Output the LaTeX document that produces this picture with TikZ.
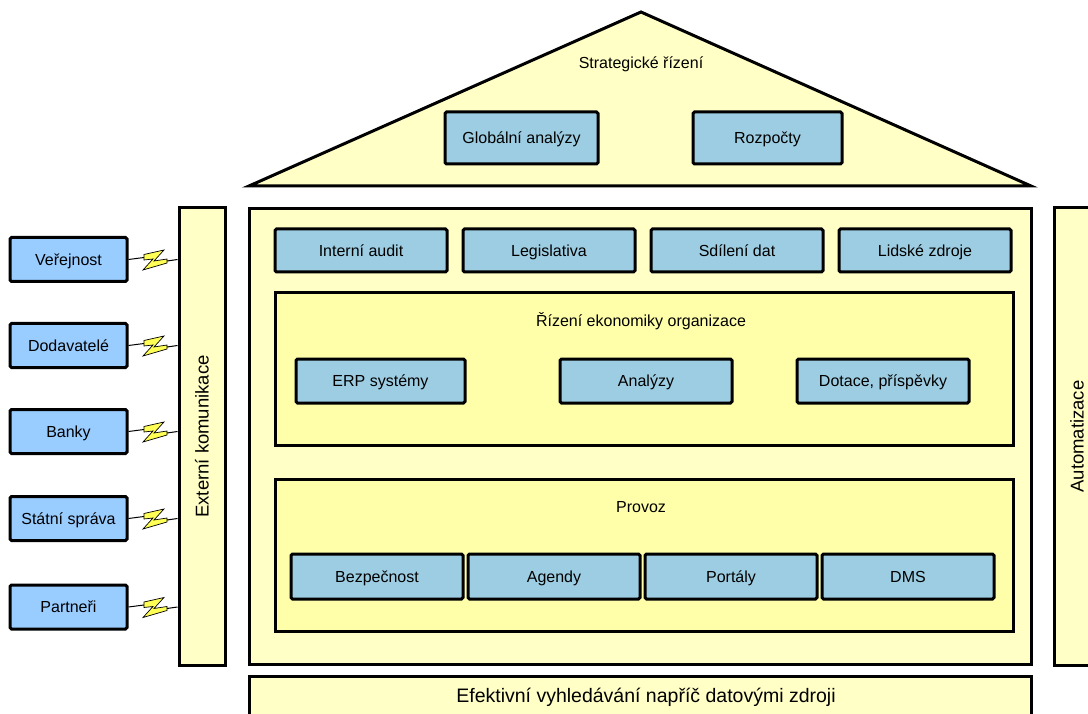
\documentclass[tikz,border=0pt]{standalone}
\usepackage{fontspec}
\setmainfont{Liberation Sans}
\usetikzlibrary{calc}
\definecolor{paleyel}{HTML}{FFFFC6}
\definecolor{inneryel}{HTML}{FFFFAA}
\definecolor{modblue}{HTML}{9DCDE2}
\definecolor{extblue}{HTML}{99CCFF}
\definecolor{boltyel}{HTML}{FFFF55}
\tikzset{
  outline/.style={draw=black, line width=3pt, line join=miter},
  panel/.style={outline, fill=paleyel, rectangle, inner sep=0pt},
  subpanel/.style={outline, fill=inneryel, rectangle, inner sep=0pt},
  boxtext/.style={font=\fontsize{16}{19}\selectfont, text height=11.5pt, text depth=0pt},
  module/.style={outline, fill=modblue, rectangle, rounded corners=1.5pt,
    minimum width=172pt, minimum height=43pt, inner sep=0pt, boxtext},
  extbox/.style={outline, fill=extblue, rectangle, rounded corners=1.5pt,
    minimum width=117pt, minimum height=44pt, inner sep=0pt, boxtext},
  caption/.style={inner sep=0pt, font=\fontsize{16}{19}\selectfont},
  wire/.style={draw=black, line width=1pt},
  bolt/.style={draw=black, line width=0.7pt, fill=boltyel, line join=miter}
}
\begin{document}
\begin{tikzpicture}[x=1pt, y=-1pt]
\useasboundingbox (0,0) rectangle (1088,714);

% roof
\coordinate (apex) at (641,12);
\coordinate (eaveL) at (249,186);
\coordinate (eaveR) at (1031,186);
\draw[outline, fill=paleyel] (eaveL) -- (apex) -- (eaveR) -- cycle;
\node[caption] (strat) at (641,64) {Strategické řízení};
\node[module, minimum width=153pt, minimum height=52pt] (glob) at (521.5,138) {Globální analýzy};
\node[module, minimum width=149pt, minimum height=52pt] (rozp) at (767.5,138) {Rozpočty};

% side pillars and foundation
\node[panel, minimum width=46pt, minimum height=457pt] (ext) at (202,436.5) {};
\node[rotate=90, caption, font=\fontsize{18.5}{22}\selectfont] (extlbl) at (ext.center) {Externí komunikace};
\node[panel, minimum width=46pt, minimum height=457pt] (auto) at (1077,436.5) {};
\node[rotate=90, caption, font=\fontsize{18.5}{22}\selectfont] (autolbl) at (auto.center) {Automatizace};
\node[panel, minimum width=782pt, minimum height=60pt] (found) at (640,706) {};
\node[caption, font=\fontsize{19.5}{23}\selectfont] (foundlbl) at (646,697) {Efektivní vyhledávání napříč datovými zdroji};

% main body
\node[panel, minimum width=782pt, minimum height=456pt] (body) at (640,436.5) {};

\node[module] (audit) at (361,250.5) {Interní audit};
\node[module] (legis) at (549,250.5) {Legislativa};
\node[module] (share) at (737,250.5) {Sdílení dat};
\node[module] (hr)    at (925,250.5) {Lidské zdroje};

% economy block
\node[subpanel, minimum width=738pt, minimum height=152pt] (econ) at (644,369) {};
\node[caption] (econlbl) at (641,321) {Řízení ekonomiky organizace};
\node[module, minimum width=169pt, minimum height=44pt] (erp) at (380.5,381) {ERP systémy};
\node[module, minimum width=172pt, minimum height=44pt] (anal) at (646,381) {Analýzy};
\node[module, minimum width=172pt, minimum height=44pt] (dot) at (883,381) {Dotace, příspěvky};

% operations block
\node[subpanel, minimum width=738pt, minimum height=152pt] (prov) at (644,555) {};
\node[caption] (provlbl) at (641,507) {Provoz};
\node[module, minimum height=45pt] (sec) at (377,576.5) {Bezpečnost};
\node[module, minimum height=45pt] (agen) at (554,576.5) {Agendy};
\node[module, minimum height=45pt] (port) at (731,576.5) {Portály};
\node[module, minimum height=45pt] (dms) at (908,576.5) {DMS};

% external parties with lightning links
\foreach \name/\txt/\yc in {pub/Veřejnost/259.5, sup/Dodavatelé/345.5, bank/Banky/431.5, gov/Státní správa/518.5, part/Partneři/607} {
  \node[extbox] (\name) at (68.5,\yc) {\txt};
  \coordinate (\name bolt) at (154,\yc+0.5);
  \draw[wire] (\name.east) -- ([shift={(-10,-2.5)}]\name bolt);
  \draw[bolt] ([shift={(-10,-5.5)}]\name bolt) -- ([shift={(10,-10)}]\name bolt)
    -- ([shift={(0,1)}]\name bolt) -- ([shift={(13,-1)}]\name bolt)
    -- ([shift={(13,3)}]\name bolt) -- ([shift={(-11,10)}]\name bolt)
    -- ([shift={(-1,-1)}]\name bolt) -- ([shift={(-10,0)}]\name bolt) -- cycle;
  \draw[wire] ([shift={(13,1)}]\name bolt) -- (ext.west |- \name.east);
}
\end{tikzpicture}
\end{document}
